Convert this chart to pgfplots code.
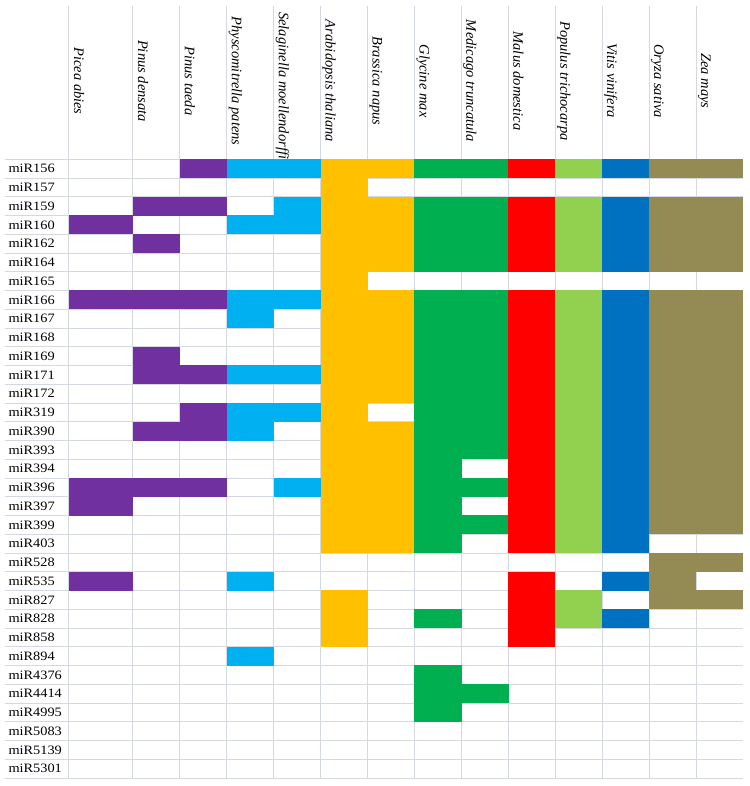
\documentclass[border=0pt]{standalone}
\usepackage{fontspec}
\setmainfont{Liberation Serif}
\newfontfamily\rowfont[FakeStretch=1.12]{Liberation Serif}
\usepackage{pgfplots}
\pgfplotsset{compat=1.18}
\definecolor{cPurple}{HTML}{7030A0}
\definecolor{cLBlue}{HTML}{00B0F0}
\definecolor{cOrange}{HTML}{FFC000}
\definecolor{cGreen}{HTML}{00B050}
\definecolor{cRed}{HTML}{FF0000}
\definecolor{cLGreen}{HTML}{92D050}
\definecolor{cDBlue}{HTML}{0070C0}
\definecolor{cOlive}{HTML}{948A54}
\definecolor{gridc}{HTML}{D4D8E0}
\pgfdeclareplotmark{cell}{\pgfpathrectangle{\pgfpoint{-23.6bp}{-9.5bp}}{\pgfpoint{47.2bp}{19bp}}\pgfusepathqfill}
\pgfdeclareplotmark{cellw}{\pgfpathrectangle{\pgfpoint{-40.65bp}{-9.5bp}}{\pgfpoint{64.25bp}{19bp}}\pgfusepathqfill}
\newcommand\headfont{\itshape\fontsize{14.5bp}{16bp}\selectfont}
\begin{document}
\begin{tikzpicture}
\useasboundingbox (0,0) rectangle (750bp,786bp);
\begin{axis}[
  at={(5bp,8bp)}, anchor=south west,
  x=46.92bp, y=18.75bp, y dir=reverse,
  xmin=-1.228, xmax=14.5, ymin=-7.676, ymax=33.5,
  axis line style={draw=none},
  xtick={0.136,1.5,2.5,3.5,4.5,5.5,6.5,7.5,8.5,9.5,10.5,11.5,12.5,13.5},
  xticklabels={},
  ytick={1,...,33},
  yticklabels={miR156,miR157,miR159,miR160,miR162,miR164,miR165,miR166,miR167,miR168,miR169,miR171,miR172,miR319,miR390,miR393,miR394,miR396,miR397,miR399,miR403,miR528,miR535,miR827,miR828,miR858,miR894,miR4376,miR4414,miR4995,miR5083,miR5139,miR5301},
  minor ytick={0.5,1.5,...,33.5},
  xmajorgrids=true, yminorgrids=true, ymajorgrids=false,
  major grid style={draw=gridc, line width=1bp},
  minor grid style={draw=gridc, line width=1bp},
  major tick length=0pt, minor tick length=0pt,
  yticklabel style={anchor=west, font=\rowfont\fontsize{12.8bp}{14bp}\selectfont},
  clip=false,
]
% column headers
\addplot[only marks, mark=*, mark size=0pt, mark options={draw=none,fill=none},
  point meta=explicit symbolic, nodes near coords,
  every node near coord/.append style={rotate=-90, anchor=base, font=\headfont, text=black, inner sep=0pt}]
coordinates {
(0.243,-3.673) [Picea abies]
(1.607,-3.673) [Pinus densata]
(2.607,-3.673) [Pinus taeda]
(3.607,-3.673) [Physcomitrella patens]
(5.607,-3.673) [Arabidopsis thaliana]
(6.607,-3.673) [Brassica napus]
(7.607,-3.673) [Glycine max]
(8.607,-3.673) [Medicago truncatula]
(9.607,-3.673) [Malus domestica]
(10.607,-3.673) [Populus trichocarpa]
(11.607,-3.673) [Vitis vinifera]
(12.607,-3.673) [Oryza sativa]
(13.607,-3.673) [Zea mays]
};
\addplot[only marks, mark=*, mark size=0pt, mark options={draw=none,fill=none},
  point meta=explicit symbolic, nodes near coords,
  every node near coord/.append style={rotate=-90, anchor=base west, font=\headfont, text=black, inner sep=0pt}]
coordinates {(4.607,-7.353) [Selaginella moellendorffii]};
% presence cells
\addplot[only marks, mark=cellw, color=cPurple] table {
x y
1 4
1 8
1 18
1 19
1 23
};
\addplot[only marks, mark=cell, color=cPurple] table {
x y
2 3
2 5
2 8
2 11
2 12
2 15
2 18
3 1
3 3
3 8
3 12
3 14
3 15
3 18
};
\addplot[only marks, mark=cell, color=cLBlue] table {
x y
4 1
4 4
4 8
4 9
4 12
4 14
4 15
4 23
4 27
5 1
5 3
5 4
5 8
5 12
5 14
5 18
};
\addplot[only marks, mark=cell, color=cOrange] table {
x y
6 1
6 2
6 3
6 4
6 5
6 6
6 7
6 8
6 9
6 10
6 11
6 12
6 13
6 14
6 15
6 16
6 17
6 18
6 19
6 20
6 21
6 24
6 25
6 26
7 1
7 3
7 4
7 5
7 6
7 8
7 9
7 10
7 11
7 12
7 13
7 15
7 16
7 17
7 18
7 19
7 20
7 21
};
\addplot[only marks, mark=cell, color=cGreen] table {
x y
8 1
8 3
8 4
8 5
8 6
8 8
8 9
8 10
8 11
8 12
8 13
8 14
8 15
8 16
8 17
8 18
8 19
8 20
8 21
8 25
8 28
8 29
8 30
9 1
9 3
9 4
9 5
9 6
9 8
9 9
9 10
9 11
9 12
9 13
9 14
9 15
9 16
9 18
9 20
9 29
};
\addplot[only marks, mark=cell, color=cRed] table {
x y
10 1
10 3
10 4
10 5
10 6
10 8
10 9
10 10
10 11
10 12
10 13
10 14
10 15
10 16
10 17
10 18
10 19
10 20
10 21
10 23
10 24
10 25
10 26
};
\addplot[only marks, mark=cell, color=cLGreen] table {
x y
11 1
11 3
11 4
11 5
11 6
11 8
11 9
11 10
11 11
11 12
11 13
11 14
11 15
11 16
11 17
11 18
11 19
11 20
11 21
11 24
11 25
};
\addplot[only marks, mark=cell, color=cDBlue] table {
x y
12 1
12 3
12 4
12 5
12 6
12 8
12 9
12 10
12 11
12 12
12 13
12 14
12 15
12 16
12 17
12 18
12 19
12 20
12 21
12 23
12 25
};
\addplot[only marks, mark=cell, color=cOlive] table {
x y
13 1
13 3
13 4
13 5
13 6
13 8
13 9
13 10
13 11
13 12
13 13
13 14
13 15
13 16
13 17
13 18
13 19
13 20
13 22
13 23
13 24
14 1
14 3
14 4
14 5
14 6
14 8
14 9
14 10
14 11
14 12
14 13
14 14
14 15
14 16
14 17
14 18
14 19
14 20
14 22
14 24
};
\end{axis}
\end{tikzpicture}
\end{document}
